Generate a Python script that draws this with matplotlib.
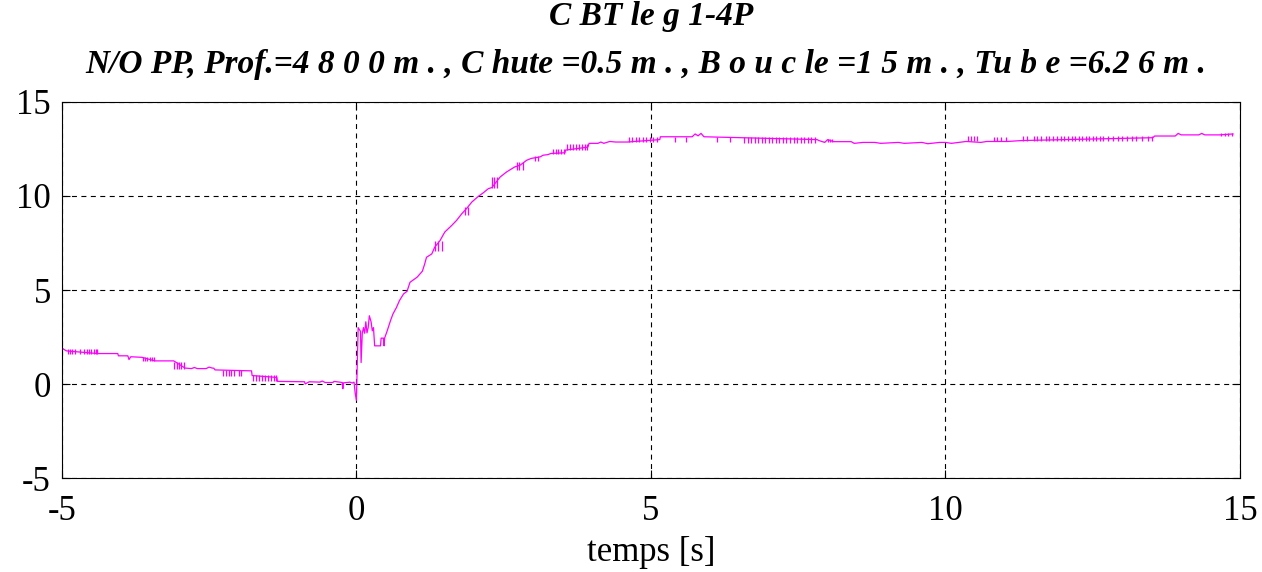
import numpy as np
import matplotlib
matplotlib.use('Agg')
import matplotlib.pyplot as plt

plt.rcParams['font.family'] = ['Liberation Serif', 'DejaVu Serif']
plt.rcParams['axes.unicode_minus'] = False

# base signal (time [s], value)
t_pts = [-5.0, -4.97, -4.92, -4.39, -4.05, -4.04, -3.88, -3.86, -3.83, -3.64, -3.42,
         -3.1, -2.91, -2.8, -2.75, -2.7, -2.55, -2.5, -2.45, -2.42, -2.4, -1.78, -1.77,
         -1.35, -1.34, -0.96, -0.88, -0.87, -0.8, -0.62, -0.58, -0.53, -0.4, -0.38,
         -0.24, -0.23, -0.22, -0.11, -0.07, -0.04, -0.02, 0.0, 0.03, 0.07, 0.08, 0.1,
         0.12, 0.14, 0.16, 0.18, 0.2, 0.22, 0.25, 0.27, 0.29, 0.31, 0.41, 0.42, 0.46,
         0.47, 0.48, 0.52, 0.58, 0.62, 0.68, 0.73, 0.8, 0.86, 0.91, 1.03, 1.08, 1.12,
         1.16, 1.19, 1.28, 1.33, 1.42, 1.5, 1.62, 1.7, 1.79, 1.87, 1.96, 2.07, 2.15,
         2.24, 2.3, 2.44, 2.55, 2.69, 2.78, 2.89, 2.97, 3.12, 3.17, 3.25, 3.3, 3.54,
         3.55, 3.93, 3.95, 4.1, 4.15, 4.2, 4.3, 4.4, 4.6, 5.15, 5.16, 5.7, 5.75, 5.8,
         5.85, 5.9, 6.55, 7.82, 7.85, 7.95, 8.0, 8.1, 8.4, 8.45, 8.6, 8.8, 8.9, 9.2,
         9.3, 9.6, 9.7, 9.9, 10.0, 10.1, 10.35, 10.6, 10.7, 11.05, 11.3, 13.52, 13.55,
         13.9, 13.95, 14.0, 14.3, 14.35, 14.4, 14.65, 14.88]
v_pts = [1.94, 1.85, 1.76, 1.62, 1.62, 1.5, 1.5, 1.3, 1.45, 1.42, 1.23,
         1.23, 0.85, 0.82, 0.88, 0.82, 0.82, 0.9, 0.85, 0.84, 0.75, 0.7, 0.45,
         0.35, 0.14, 0.12, 0.12, 0.0, 0.12, 0.1, 0.16, 0.08, 0.08, 0.14,
         0.08, -0.25, 0.06, 0.1, 0.05, 0.1, -0.5, -0.87, 3.0, 2.8, 1.14, 2.7,
         3.0, 2.7, 3.31, 2.72, 3.0, 3.63, 3.3, 2.83, 3.0, 2.03, 2.03, 2.44, 2.44,
         2.03, 2.45, 2.8, 3.38, 3.72, 4.07, 4.43, 4.79, 4.93, 5.41, 5.68, 5.86, 6.0,
         6.39, 6.74, 6.92, 7.28, 7.63, 8.08, 8.44, 8.7, 9.06, 9.33, 9.68, 9.98, 10.16,
         10.39, 10.45, 11.01, 11.28, 11.55, 11.64, 11.9, 12.0, 12.08, 12.17, 12.2, 12.26, 12.3,
         12.44, 12.6, 12.8, 12.8, 12.87, 12.8, 12.9, 12.87, 12.87, 13.0, 13.15, 13.15, 13.3, 13.2,
         13.33, 13.15, 13.1, 13.0, 12.95, 12.85, 13.0, 12.89, 12.89, 12.8, 12.85, 12.85, 12.8, 12.85,
         12.8, 12.85, 12.78, 12.85, 12.85, 12.8, 12.9, 12.85, 12.9, 12.9, 12.95, 13.1, 13.19,
         13.19, 13.33, 13.25, 13.25, 13.33, 13.25, 13.25, 13.3]

# quantisation chatter: (spike times, low, high)
chatter = [
    ([-4.9, -4.86, -4.82, -4.78, -4.7, -4.62, -4.58, -4.54, -4.5, -4.46, -4.42, -4.4], 1.58, 1.88),
    ([-3.63, -3.59, -3.55, -3.51, -3.47, -3.43], 1.2, 1.42),
    ([-3.09, -3.05, -3.01, -2.97, -2.93], 0.82, 1.17),
    ([-2.27, -2.22, -2.17, -2.12, -2.07, -2.0, -1.96], 0.43, 0.75),
    ([-1.75, -1.7, -1.65, -1.6, -1.55, -1.5, -1.45, -1.4, -1.36], 0.16, 0.48),
    ([1.34, 1.38, 1.45], 7.1, 7.6),
    ([1.85, 1.9], 9.0, 9.4),
    ([2.3, 2.34, 2.38], 10.4, 11.0),
    ([2.72, 2.76, 2.82], 11.4, 11.8),
    ([3.03, 3.08], 11.85, 12.15),
    ([3.33, 3.38, 3.43, 3.48, 3.53], 12.22, 12.5),
    ([3.58, 3.63, 3.68, 3.73, 3.78, 3.83, 3.88, 3.92], 12.44, 12.76),
    ([4.62, 4.68, 4.74, 4.8, 4.86, 4.92, 4.98, 5.04, 5.1], 12.87, 13.15),
    ([5.41, 5.6, 6.12, 6.34], 12.89, 13.15),
    ([6.58, 6.64, 6.7, 6.76, 6.82, 6.88, 6.94, 7.0, 7.06, 7.12, 7.18, 7.24, 7.3,
      7.36, 7.42, 7.48, 7.54, 7.6, 7.66, 7.72, 7.78], 12.8, 13.15),
    ([8.0, 8.04, 8.07], 12.85, 13.05),
    ([10.38, 10.43, 10.48, 10.53], 12.9, 13.19),
    ([10.82, 10.88, 10.95, 11.02], 12.9, 13.15),
    ([11.32, 11.38, 11.5, 11.56, 11.62, 11.7, 11.76, 11.82, 11.9, 11.96, 12.02,
      12.08, 12.14, 12.2, 12.26, 12.32, 12.38, 12.44, 12.5, 12.56, 12.62, 12.68,
      12.76, 12.84, 12.92, 13.0, 13.08, 13.16, 13.24, 13.34, 13.44, 13.5], 12.9, 13.19),
    ([14.68, 14.74, 14.8, 14.86], 13.2, 13.35),
]

fig = plt.figure(figsize=(12.62, 5.72), dpi=100)
ax = fig.add_axes([0.049, 0.1643, 0.9336, 0.6574])

mag = '#ff00ff'
ax.plot(t_pts, v_pts, color=mag, lw=0.9)
for ts, lo, hi in chatter:
    ax.vlines(ts, lo, hi, color=mag, lw=0.9)

ax.set_xlim(-5, 15)
ax.set_ylim(-5, 15)
ax.set_xticks([-5, 0, 5, 10, 15])
ax.set_yticks([-5, 0, 5, 10, 15])
ax.grid(True, color='black', linestyle=(0, (4.5, 4)), linewidth=0.8)
ax.tick_params(direction='in', length=6, top=True, right=True, labelsize=25)
ax.tick_params(axis='x', pad=12)
ax.tick_params(axis='y', pad=8)
for s in ax.spines.values():
    s.set_linewidth(0.8)

ax.set_xlabel('temps [s]', fontsize=25, labelpad=6)
fig.text(0.516, 0.972, 'C BT le g 1-4P', ha='center', va='center',
         fontsize=24, fontweight='bold', style='italic')
fig.text(0.512, 0.888,
         'N/O PP, Prof.=4 8 0 0 m . , C hute =0.5 m . , B o u c le =1 5 m . , Tu b e =6.2 6 m .',
         ha='center', va='center', fontsize=24, fontweight='bold', style='italic')

fig.savefig('out.png', dpi=100)
